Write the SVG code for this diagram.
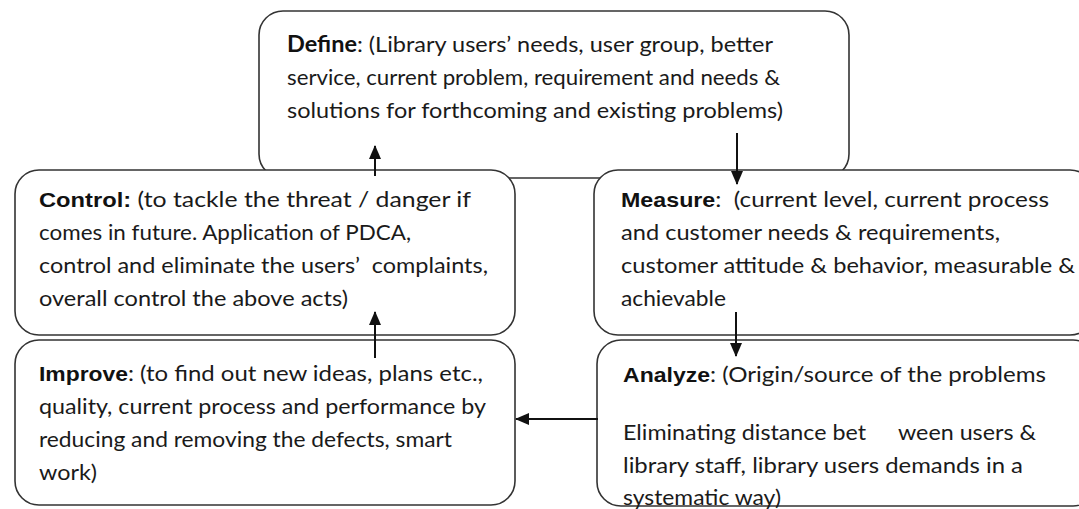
<svg xmlns="http://www.w3.org/2000/svg" width="1079" height="509" viewBox="0 0 1079 509">
  <style>
    .box { fill: #ffffff; stroke: #333333; stroke-width: 1.6; }
    .body { font-family: Lato, "Open Sans", sans-serif; font-size: 22px; fill: #1a1a1a; }
    .hd { font-family: "Liberation Sans", Arial, sans-serif; font-size: 21px; font-weight: bold; fill: #111111; }
    .hd2 { font-family: Lato, "Open Sans", sans-serif; font-weight: bold; fill: #111111; }
    .link { stroke: #111111; stroke-width: 2; fill: none; }
  </style>
  <defs>
    <marker id="head" markerUnits="userSpaceOnUse" markerWidth="14" markerHeight="12" refX="13" refY="6" orient="auto">
      <path d="M0,0 L14,6 L0,12 Z" fill="#111111"/>
    </marker>
  </defs>
  <rect width="1079" height="509" fill="#ffffff"/>

  <!-- Define -->
  <g id="define">
    <rect class="box" x="259" y="11" width="590" height="167" rx="24"/>
    <text class="body" x="287" y="52" textLength="486" lengthAdjust="spacingAndGlyphs"><tspan class="hd2">Define</tspan>: (Library users’ needs, user group, better</text>
    <text class="body" x="287" y="85" textLength="493" lengthAdjust="spacingAndGlyphs">service, current problem, requirement and needs &amp;</text>
    <text class="body" x="287" y="118" textLength="496" lengthAdjust="spacingAndGlyphs">solutions for forthcoming and existing problems)</text>
  </g>

  <!-- Control -->
  <g id="control">
    <rect class="box" x="15" y="170" width="500" height="165" rx="24"/>
    <text class="body" x="39" y="207" textLength="432" lengthAdjust="spacingAndGlyphs"><tspan class="hd">Control:</tspan> (to tackle the threat / danger if</text>
    <text class="body" x="39" y="240" textLength="372" lengthAdjust="spacingAndGlyphs">comes in future. Application of PDCA,</text>
    <text class="body" x="39" y="273" textLength="449" lengthAdjust="spacingAndGlyphs" xml:space="preserve">control and eliminate the users’  complaints,</text>
    <text class="body" x="39" y="306" textLength="309" lengthAdjust="spacingAndGlyphs">overall control the above acts)</text>
  </g>

  <!-- Measure -->
  <g id="measure">
    <rect class="box" x="594" y="170" width="500" height="165" rx="24"/>
    <text class="body" x="621" y="207" textLength="428" lengthAdjust="spacingAndGlyphs" xml:space="preserve"><tspan class="hd">Measure</tspan>:  (current level, current process</text>
    <text class="body" x="621" y="240" textLength="379" lengthAdjust="spacingAndGlyphs">and customer needs &amp; requirements,</text>
    <text class="body" x="621" y="273" textLength="454" lengthAdjust="spacingAndGlyphs">customer attitude &amp; behavior, measurable &amp;</text>
    <text class="body" x="621" y="306" textLength="105" lengthAdjust="spacingAndGlyphs">achievable</text>
  </g>

  <!-- Improve -->
  <g id="improve">
    <rect class="box" x="15" y="340" width="500" height="165" rx="24"/>
    <text class="body" x="39" y="381" textLength="444" lengthAdjust="spacingAndGlyphs"><tspan class="hd">Improve</tspan>: (to find out new ideas, plans etc.,</text>
    <text class="body" x="39" y="414" textLength="447" lengthAdjust="spacingAndGlyphs">quality, current process and performance by</text>
    <text class="body" x="39" y="447" textLength="413" lengthAdjust="spacingAndGlyphs">reducing and removing the defects, smart</text>
    <text class="body" x="39" y="480" textLength="58" lengthAdjust="spacingAndGlyphs">work)</text>
  </g>

  <!-- Analyze -->
  <g id="analyze">
    <rect class="box" x="597" y="340" width="500" height="166" rx="24"/>
    <text class="body" x="623" y="382" textLength="423" lengthAdjust="spacingAndGlyphs"><tspan class="hd">Analyze</tspan>: (Origin/source of the problems</text>
    <text class="body" x="623" y="440" textLength="243" lengthAdjust="spacingAndGlyphs">Eliminating distance bet</text>
    <text class="body" x="898" y="440" textLength="138" lengthAdjust="spacingAndGlyphs">ween users &amp;</text>
    <text class="body" x="623" y="473" textLength="400" lengthAdjust="spacingAndGlyphs">library staff, library users demands in a</text>
    <text class="body" x="623" y="505" textLength="158" lengthAdjust="spacingAndGlyphs">systematic way)</text>
  </g>

  <!-- Connectors -->
  <g id="connectors">
    <line class="link" x1="375" y1="176" x2="375" y2="146" marker-end="url(#head)"/>
    <line class="link" x1="737" y1="133" x2="737" y2="184" marker-end="url(#head)"/>
    <line class="link" x1="736" y1="312" x2="736" y2="356" marker-end="url(#head)"/>
    <line class="link" x1="375" y1="358" x2="375" y2="312" marker-end="url(#head)"/>
    <line class="link" x1="598" y1="419" x2="516" y2="419" stroke-width="3" marker-end="url(#head)"/>
  </g>
</svg>
